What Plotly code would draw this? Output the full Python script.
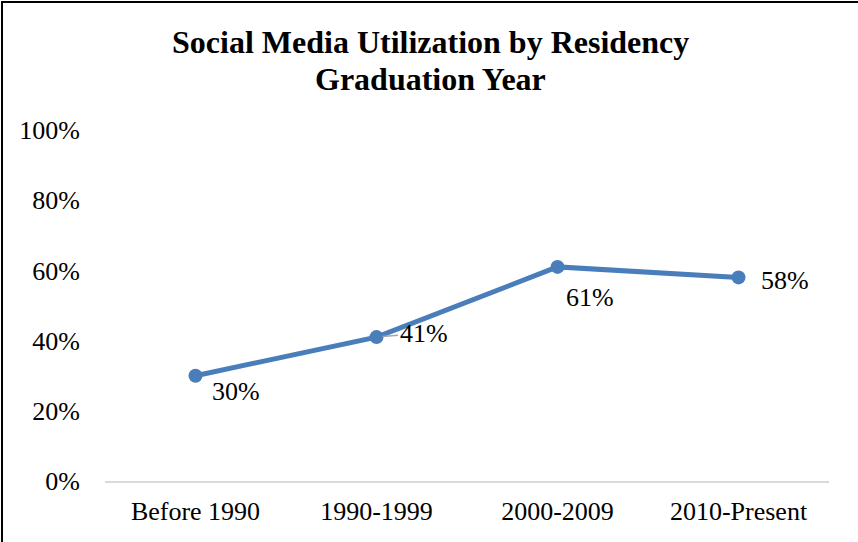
import plotly.graph_objects as go

categories = ["Before 1990", "1990-1999", "2000-2009", "2010-Present"]
values = [0.30, 0.41, 0.61, 0.58]
labels = ["30%", "41%", "61%", "58%"]
label_offsets = [(40, 16), (47, 4), (32, 31), (46, 3)]  # pixel offsets of data labels
yticks = [0, 0.2, 0.4, 0.6, 0.8, 1.0]
ytick_text = ["0%", "20%", "40%", "60%", "80%", "100%"]
title_lines = ["Social Media Utilization by Residency", "Graduation Year"]

W, H = 858, 542
ml, mr, mt, mb = 105, 29, 130, 61
pw, ph = W - ml - mr, H - mt - mb

FONT = "Liberation Serif, Times New Roman, serif"
BLUE = "#4A7EBB"
TS = 26

fig = go.Figure()
fig.add_trace(go.Scatter(
    x=categories, y=values, mode="lines+markers",
    line=dict(color=BLUE, width=5),
    marker=dict(color=BLUE, size=14),
    hoverinfo="skip", showlegend=False,
))

for i, (c, v, t) in enumerate(zip(categories, values, labels)):
    dx, dy = label_offsets[i]
    if i == 1:
        fig.add_annotation(x=c, y=v, text=t, showarrow=True, ax=dx, ay=-dy,
                           arrowhead=0, arrowcolor="#A6A6A6", arrowwidth=1.5,
                           standoff=6,
                           font=dict(family=FONT, size=TS, color="#000"))
    else:
        fig.add_annotation(x=c, y=v, text=t, showarrow=False, xshift=dx, yshift=-dy,
                           font=dict(family=FONT, size=TS, color="#000"))

# title, two lines
for line, ypx in zip(title_lines, [42, 79]):
    fig.add_annotation(text="<b>" + line + "</b>", showarrow=False,
                       xref="paper", yref="paper",
                       x=(430 - ml) / pw, y=(H - mb - ypx) / ph,
                       xanchor="center", yanchor="middle",
                       font=dict(family=FONT, size=32, color="#000"))

# outer border (extends beyond right/bottom edges)
fig.add_shape(type="rect", xref="paper", yref="paper",
              x0=(2 - ml) / pw, x1=(W + 10 - ml) / pw,
              y0=-(mb + 10) / ph, y1=(H - 2 - mb) / ph,
              line=dict(color="#000", width=2), fillcolor="rgba(0,0,0,0)", layer="below")

fig.update_layout(
    width=W, height=H,
    margin=dict(l=ml, r=mr, t=mt, b=mb),
    paper_bgcolor="white", plot_bgcolor="white",
    font=dict(family=FONT, color="#000"),
    xaxis=dict(
        type="category", range=[-0.5, 3.5],
        showgrid=False, zeroline=False,
        showline=True, linecolor="#D9D9D9", linewidth=2,
        ticks="", tickfont=dict(family=FONT, size=TS, color="#000"),
        ticklabelstandoff=6,
    ),
    yaxis=dict(
        range=[0, 1], tickvals=yticks, ticktext=ytick_text,
        showgrid=False, zeroline=False, showline=False,
        ticks="", tickfont=dict(family=FONT, size=TS, color="#000"),
        ticklabelstandoff=24,
    ),
)

fig.write_html("out.html")
